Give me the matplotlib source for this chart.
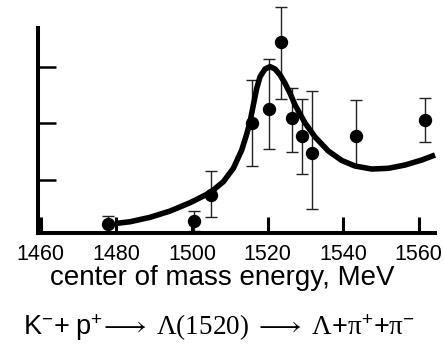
import matplotlib
matplotlib.use("Agg")
import matplotlib.pyplot as plt

plt.rcParams["font.family"] = ["Liberation Sans", "DejaVu Sans"]
plt.rcParams["mathtext.fontset"] = "custom"
plt.rcParams["mathtext.rm"] = "Liberation Serif"
plt.rcParams["mathtext.it"] = "Liberation Serif:italic"
plt.rcParams["mathtext.sf"] = "Liberation Sans"

# measured cross-section points (center of mass energy in MeV, arbitrary units)
energy = [1477.9, 1500.6, 1505.0, 1515.8, 1520.3, 1523.6, 1526.4, 1529.0, 1531.8, 1543.5, 1561.7]
signal = [0.22, 0.28, 0.735, 2.01, 2.25, 3.43, 2.10, 1.78, 1.47, 1.78, 2.06]
err_low = [0.14, 0.18, 0.39, 0.77, 0.70, 1.00, 0.60, 0.67, 0.98, 0.53, 0.39]
err_high = [0.14, 0.18, 0.42, 0.76, 0.88, 0.62, 0.53, 0.65, 1.10, 0.63, 0.39]

# resonance fit curve
fit_energy = [1479.66, 1483.62, 1488.92, 1494.21, 1499.50, 1504.79, 1508.31, 1510.95,
              1513.17, 1514.50, 1515.37, 1516.24, 1517.14, 1518.02, 1519.34, 1520.66,
              1521.98, 1523.31, 1524.63, 1525.95, 1527.28, 1528.60, 1529.92, 1532.57,
              1536.08, 1539.63, 1543.15, 1547.57, 1551.96, 1556.38, 1560.79, 1564.31]
fit_signal = [0.231, 0.263, 0.341, 0.452, 0.599, 0.776, 0.970, 1.207,
              1.530, 1.813, 2.030, 2.325, 2.620, 2.825, 2.961, 3.002,
              2.961, 2.855, 2.708, 2.532, 2.325, 2.166, 2.007, 1.760,
              1.512, 1.345, 1.247, 1.194, 1.207, 1.265, 1.353, 1.442]

x_ticks = [1460, 1480, 1500, 1520, 1540, 1560]
y_ticks = [1, 2, 3]

fig = plt.figure(figsize=(4.44, 3.47), dpi=100)
ax = fig.add_axes([0.0867, 0.3285, 0.893, 0.590])

ax.errorbar(energy, signal, yerr=[err_low, err_high], fmt="none",
            ecolor="#222222", elinewidth=1.0, capsize=4, capthick=1.0,
            clip_on=False, zorder=2)
ax.plot(energy, signal, "o", color="black", markersize=8.6, clip_on=False, zorder=3)
ax.plot(fit_energy, fit_signal, color="black", lw=4.0, solid_capstyle="butt",
        solid_joinstyle="round", clip_on=False, zorder=4)

ax.set_xlim(1459.4, 1564.3)
ax.set_ylim(0.064, 3.68)

for side in ("top", "right"):
    ax.spines[side].set_visible(False)
for side in ("left", "bottom"):
    ax.spines[side].set_linewidth(2.9)
    ax.spines[side].set_capstyle("projecting")

ax.set_xticks(x_ticks)
ax.set_yticks(y_ticks)
ax.set_yticklabels([])
ax.tick_params(axis="x", direction="in", length=11.5, width=2.2, labelsize=15.5, pad=8)
ax.tick_params(axis="y", direction="in", length=13, width=1.8)

fig.text(0.5, 0.1787, "center of mass energy, MeV", ha="center", va="baseline",
         fontsize=20)
fig.text(0.493, 0.0346,
         r"$\mathsf{K}^{\mathsf{-}}\mathsf{+\ p}^{\mathsf{+}}\!\longrightarrow\ \mathrm{\Lambda(1520)}\ \longrightarrow\ \mathrm{\Lambda}\mathsf{+}\mathrm{\pi}^{\mathsf{+}}\mathsf{+}\mathrm{\pi}^{\mathsf{-}}$",
         ha="center", va="baseline", fontsize=19.5)

fig.savefig("out.png", dpi=100)
